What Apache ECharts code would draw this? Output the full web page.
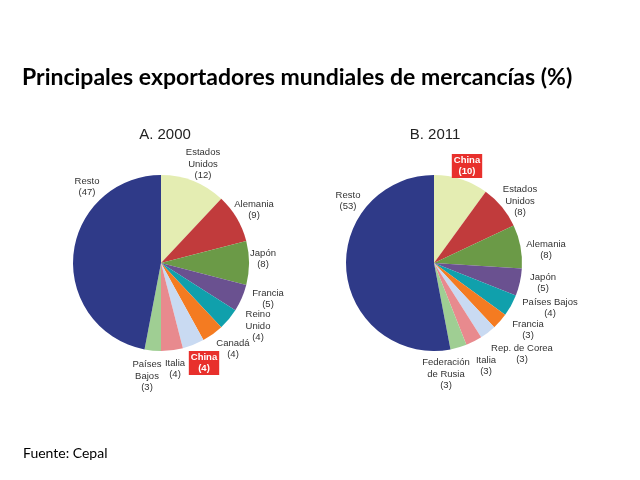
<!DOCTYPE html>
<html><head><meta charset="utf-8">
<script src="https://cdn.jsdelivr.net/npm/echarts@6/dist/echarts.min.js"></script>
<style>html,body{margin:0;padding:0;background:#fff}#c{width:640px;height:480px}</style>
</head><body><div id="c"></div>
<script>
// Data
const namesA = ['Estados\nUnidos','Alemania','Japón','Francia','Reino\nUnido','Canadá','China','Italia','Países\nBajos','Resto'];
const valuesA = [12, 9, 8, 5, 4, 4, 4, 4, 3, 47];
const namesB = ['China','Estados\nUnidos','Alemania','Japón','Países Bajos','Francia','Rep. de Corea','Italia','Federación\nde Rusia','Resto'];
const valuesB = [10, 8, 8, 5, 4, 3, 3, 3, 3, 53];
const highlightName = 'China';

// Styles
const sliceColors = ['#e4edb2','#c13b3c','#6b9a47','#6a5190','#10a0ac','#f47b21','#c9daf2','#e88a8e','#9fce93','#2f3a88'];
const labelPosA = [[203,164],[254,210],[263,259],[268,299],[258,326],[233,349],[204,363],[175,369],[147,376],[87,187]];
const labelPosB = [[467,166],[520,201],[546,250],[543,283],[550,308],[528,330],[522,354],[486,366],[446,374],[348,201]];

function buildData(names, values) {
  return names.map((n, i) => {
    const item = { name: n, value: values[i], itemStyle: { color: sliceColors[i] } };
    if (n === highlightName) {
      item.label = { backgroundColor: '#e8302c', color: '#fff', fontWeight: 'bold', padding: [1, 2, 0, 2] };
    }
    return item;
  });
}
function makeLayout(pos) {
  return function (p) {
    const q = pos[p.dataIndex];
    return { x: q[0], y: q[1], align: 'center', verticalAlign: 'middle' };
  };
}
function pieSeries(names, values, center, pos) {
  return {
    type: 'pie', center: center, radius: 88, startAngle: 90, clockwise: true,
    silent: true, animation: false, avoidLabelOverlap: false,
    label: { show: true, position: 'outside', formatter: '{b}\n({c})', color: '#333', overflow: 'none',
      fontFamily: 'Liberation Sans, Arial, sans-serif', fontSize: 9.5, lineHeight: 11.5 },
    labelLine: { show: false },
    labelLayout: makeLayout(pos),
    data: buildData(names, values)
  };
}
const chart = echarts.init(document.getElementById('c'), null, { renderer: 'canvas' });
chart.setOption({
  backgroundColor: '#fff',
  title: [
    { text: 'Principales exportadores mundiales de mercancías (%)', left: 17, top: 61,
      textStyle: { fontFamily: 'Lato, Open Sans, sans-serif', fontWeight: 'bold', fontSize: 23, color: '#000' } },
    { text: 'A. 2000', left: 160, top: 122, textAlign: 'center',
      textStyle: { fontFamily: 'Liberation Sans, Arial, sans-serif', fontWeight: 'normal', fontSize: 15, color: '#222' } },
    { text: 'B. 2011', left: 430, top: 122, textAlign: 'center',
      textStyle: { fontFamily: 'Liberation Sans, Arial, sans-serif', fontWeight: 'normal', fontSize: 15, color: '#222' } },
    { text: 'Fuente: Cepal', left: 18, top: 441,
      textStyle: { fontFamily: 'Lato, Open Sans, sans-serif', fontWeight: 'normal', fontSize: 14, color: '#000' } }
  ],
  series: [
    pieSeries(namesA, valuesA, [161, 263], labelPosA),
    pieSeries(namesB, valuesB, [434, 263], labelPosB)
  ]
});
</script></body></html>
